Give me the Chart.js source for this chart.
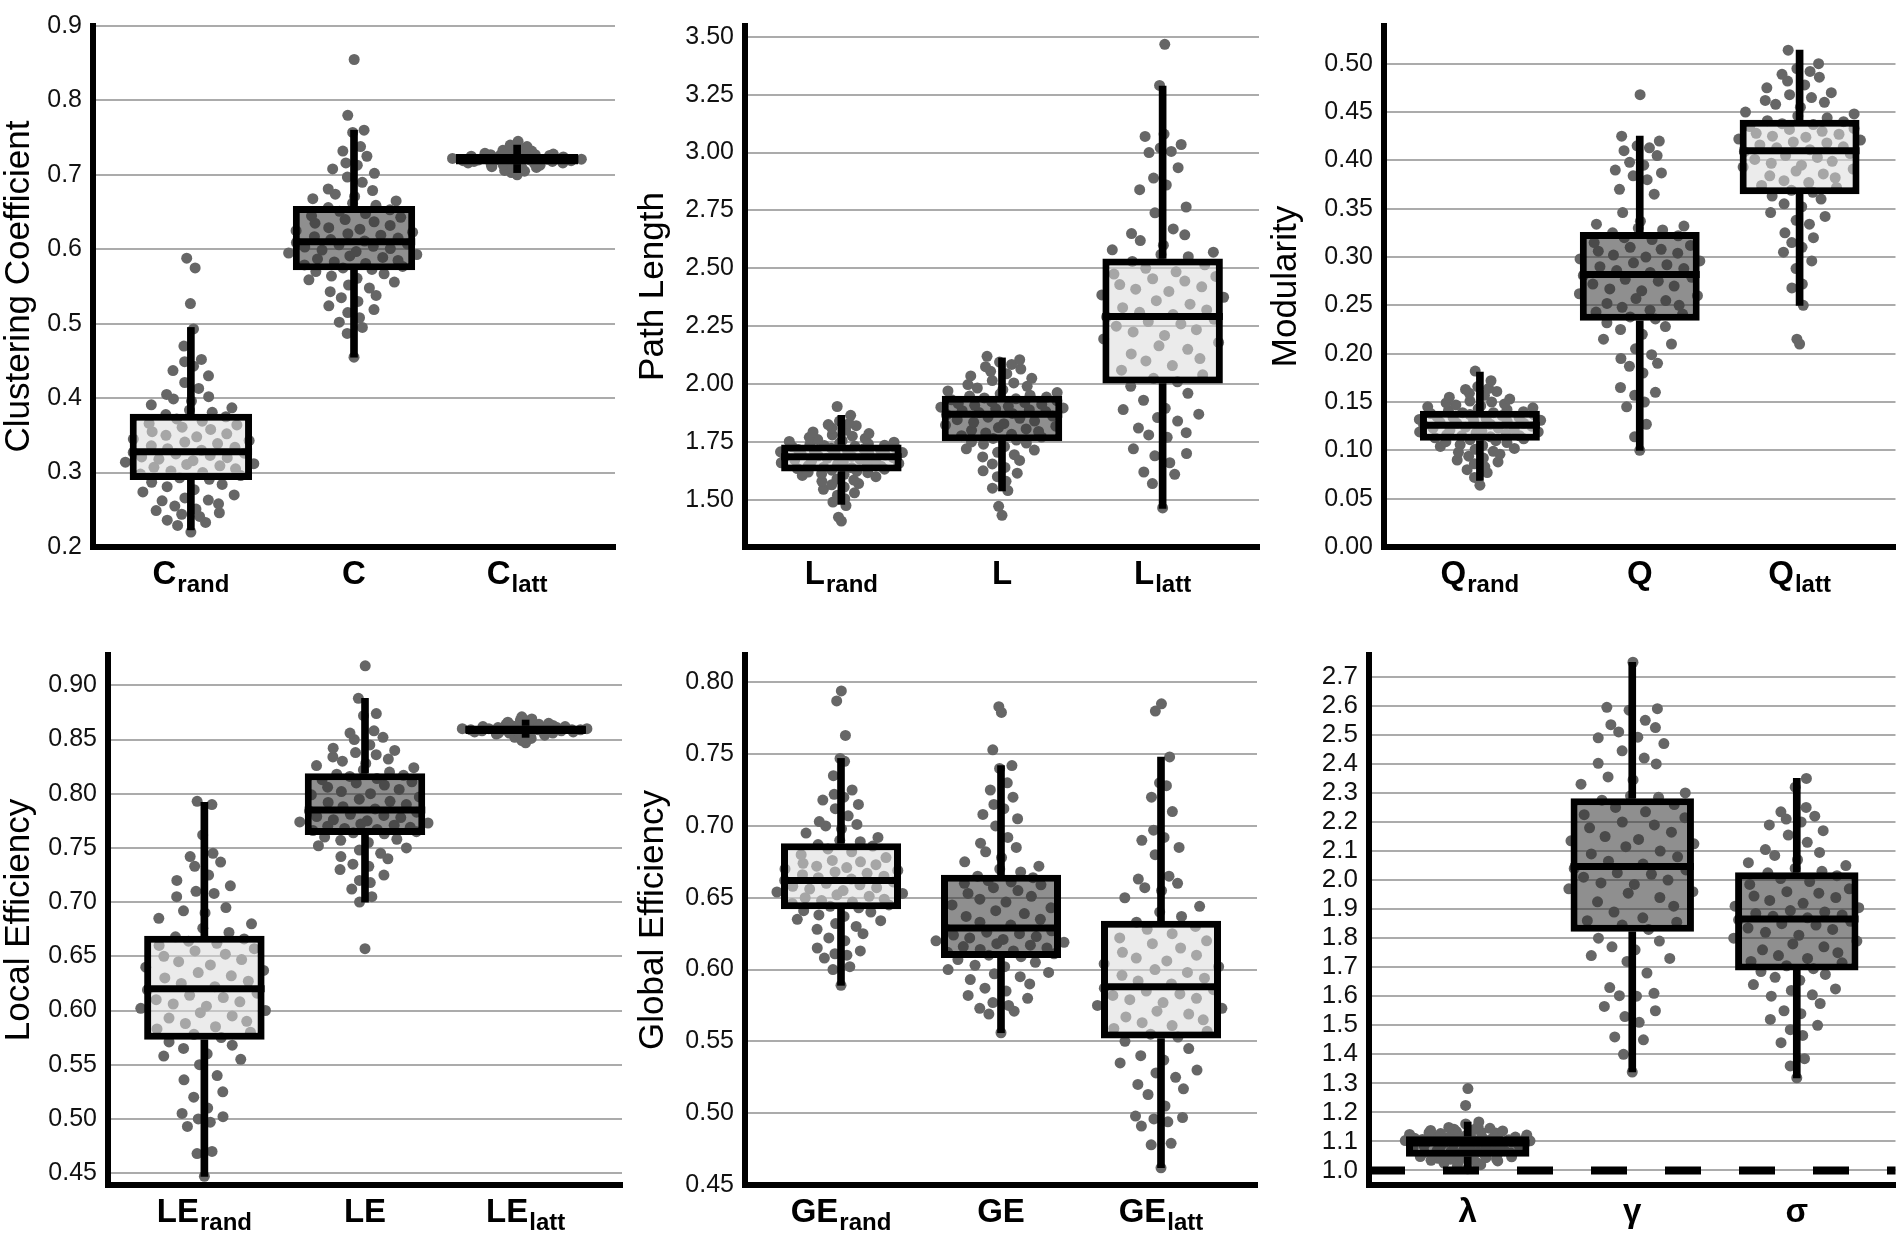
<!DOCTYPE html>
<html>
<head>
<meta charset="utf-8">
<script src="https://cdn.jsdelivr.net/npm/chart.js@4.4.1/dist/chart.umd.min.js"></script>
<style>
  html, body { margin: 0; padding: 0; background: #fff; }
  #page { position: relative; width: 1901px; height: 1238px; overflow: hidden; }
  .panel { position: absolute; width: 634px; height: 619px; }
</style>
</head>
<body>
<div id="page">
  <div class="panel" style="left:0px;top:0px"><canvas id="p1"></canvas></div>
  <div class="panel" style="left:634px;top:0px"><canvas id="p2"></canvas></div>
  <div class="panel" style="left:1267px;top:0px"><canvas id="p3"></canvas></div>
  <div class="panel" style="left:0px;top:619px"><canvas id="p4"></canvas></div>
  <div class="panel" style="left:634px;top:619px"><canvas id="p5"></canvas></div>
  <div class="panel" style="left:1267px;top:619px"><canvas id="p6"></canvas></div>
</div>
<script>
// ---------- clustering coefficient ----------
const CC_TICKS = [0.2, 0.3, 0.4, 0.5, 0.6, 0.7, 0.8, 0.9];
const CC_LABELS = [["C", "rand"], ["C", ""], ["C", "latt"]];
// whisker low, q1, median, q3, whisker high
const CC_BOX = [[0.223, 0.290, 0.328, 0.379, 0.495], [0.455, 0.572, 0.610, 0.658, 0.760], [0.703, 0.714, 0.721, 0.728, 0.740]];
const CC_RAND = [0.220, 0.229, 0.233, 0.236, 0.241, 0.244, 0.246, 0.249, 0.251, 0.255, 0.258, 0.262, 0.263, 0.266, 0.270, 0.274, 0.277, 0.281, 0.284, 0.287,
  0.291, 0.293, 0.296, 0.298, 0.300, 0.302, 0.305, 0.307, 0.309, 0.311, 0.312, 0.314, 0.316, 0.318, 0.320, 0.321, 0.323, 0.325, 0.326, 0.327,
  0.330, 0.332, 0.334, 0.336, 0.339, 0.341, 0.343, 0.345, 0.348, 0.350, 0.352, 0.355, 0.358, 0.361, 0.364, 0.366, 0.369, 0.372, 0.375, 0.378,
  0.381, 0.384, 0.387, 0.391, 0.396, 0.399, 0.402, 0.405, 0.413, 0.421, 0.430, 0.437, 0.443, 0.449, 0.452, 0.470, 0.493, 0.527, 0.575, 0.588];
const CC_REAL = [0.455, 0.487, 0.495, 0.502, 0.508, 0.515, 0.519, 0.524, 0.530, 0.535, 0.538, 0.543, 0.548, 0.552, 0.556, 0.559, 0.561, 0.564, 0.567, 0.570,
  0.573, 0.575, 0.577, 0.579, 0.581, 0.583, 0.585, 0.587, 0.589, 0.591, 0.593, 0.595, 0.597, 0.599, 0.601, 0.603, 0.604, 0.606, 0.607, 0.609,
  0.611, 0.613, 0.615, 0.617, 0.619, 0.621, 0.623, 0.625, 0.627, 0.629, 0.632, 0.635, 0.637, 0.640, 0.643, 0.645, 0.648, 0.651, 0.653, 0.656,
  0.659, 0.662, 0.665, 0.668, 0.671, 0.674, 0.679, 0.681, 0.690, 0.697, 0.702, 0.708, 0.713, 0.716, 0.725, 0.732, 0.738, 0.757, 0.760, 0.780, 0.855];
const CC_LATT = [0.700, 0.703, 0.705, 0.706, 0.708, 0.709, 0.710, 0.711, 0.712, 0.713, 0.713, 0.714, 0.715, 0.715, 0.716, 0.716, 0.717, 0.717, 0.718, 0.718,
  0.718, 0.719, 0.719, 0.719, 0.720, 0.720, 0.720, 0.720, 0.721, 0.721, 0.721, 0.722, 0.722, 0.722, 0.723, 0.723, 0.723, 0.724, 0.724, 0.725,
  0.725, 0.726, 0.726, 0.727, 0.727, 0.728, 0.728, 0.729, 0.730, 0.731, 0.732, 0.733, 0.734, 0.736, 0.738, 0.740, 0.745];

// ---------- path length ----------
const PL_TICKS = [1.5, 1.75, 2.0, 2.25, 2.5, 2.75, 3.0, 3.25, 3.5];
const PL_LABELS = [["L", "rand"], ["L", ""], ["L", "latt"]];
const PL_BOX = [[1.480, 1.622, 1.686, 1.739, 1.865], [1.538, 1.753, 1.870, 1.949, 2.113], [1.463, 2.002, 2.292, 2.543, 3.287]];
const PL_RAND = [1.408, 1.425, 1.475, 1.490, 1.505, 1.520, 1.530, 1.545, 1.555, 1.565, 1.570, 1.580, 1.585, 1.590, 1.600, 1.605, 1.610, 1.613, 1.617, 1.620,
  1.624, 1.628, 1.632, 1.635, 1.638, 1.641, 1.645, 1.648, 1.651, 1.654, 1.657, 1.660, 1.664, 1.667, 1.670, 1.673, 1.676, 1.679, 1.682, 1.685,
  1.688, 1.690, 1.693, 1.696, 1.699, 1.701, 1.704, 1.707, 1.709, 1.712, 1.715, 1.717, 1.720, 1.723, 1.726, 1.729, 1.731, 1.734, 1.736, 1.738,
  1.742, 1.745, 1.749, 1.752, 1.756, 1.760, 1.765, 1.770, 1.775, 1.780, 1.786, 1.793, 1.800, 1.810, 1.820, 1.825, 1.830, 1.840, 1.865, 1.903];
const PL_REAL = [1.433, 1.472, 1.540, 1.550, 1.580, 1.600, 1.615, 1.625, 1.640, 1.655, 1.670, 1.685, 1.695, 1.705, 1.715, 1.720, 1.730, 1.740, 1.745, 1.750,
  1.758, 1.765, 1.771, 1.777, 1.783, 1.789, 1.795, 1.800, 1.806, 1.812, 1.818, 1.823, 1.829, 1.835, 1.840, 1.846, 1.852, 1.857, 1.862, 1.868,
  1.873, 1.877, 1.881, 1.885, 1.889, 1.893, 1.897, 1.900, 1.904, 1.908, 1.912, 1.916, 1.920, 1.924, 1.928, 1.932, 1.936, 1.940, 1.944, 1.948,
  1.952, 1.958, 1.963, 1.970, 1.976, 1.983, 1.990, 1.998, 2.005, 2.015, 2.025, 2.035, 2.045, 2.055, 2.065, 2.075, 2.085, 2.095, 2.105, 2.120];
const PL_LATT = [1.465, 1.570, 1.610, 1.620, 1.660, 1.690, 1.700, 1.720, 1.770, 1.780, 1.790, 1.810, 1.840, 1.855, 1.870, 1.890, 1.895, 1.930, 1.960, 1.990,
  2.010, 2.025, 2.040, 2.060, 2.080, 2.100, 2.110, 2.130, 2.150, 2.165, 2.180, 2.195, 2.210, 2.225, 2.235, 2.250, 2.260, 2.270, 2.280, 2.290,
  2.300, 2.310, 2.320, 2.330, 2.345, 2.360, 2.375, 2.385, 2.400, 2.410, 2.420, 2.430, 2.445, 2.455, 2.465, 2.475, 2.485, 2.500, 2.515, 2.530,
  2.550, 2.560, 2.570, 2.580, 2.600, 2.620, 2.645, 2.650, 2.670, 2.740, 2.765, 2.840, 2.860, 2.890, 2.935, 3.000, 3.005, 3.020, 3.035, 3.070, 3.080, 3.290, 3.468];

// ---------- modularity ----------
const MOD_TICKS = [0.00, 0.05, 0.10, 0.15, 0.20, 0.25, 0.30, 0.35, 0.40, 0.45, 0.50];
const MOD_LABELS = [["Q", "rand"], ["Q", ""], ["Q", "latt"]];
const MOD_BOX = [[0.069, 0.110, 0.126, 0.141, 0.181], [0.100, 0.234, 0.282, 0.326, 0.425], [0.250, 0.365, 0.410, 0.442, 0.514]];
const MOD_RAND = [0.064, 0.072, 0.077, 0.080, 0.083, 0.086, 0.088, 0.090, 0.092, 0.094, 0.096, 0.098, 0.099, 0.101, 0.102, 0.104, 0.105, 0.106, 0.108, 0.109,
  0.110, 0.111, 0.112, 0.113, 0.114, 0.115, 0.115, 0.116, 0.117, 0.118, 0.119, 0.119, 0.120, 0.121, 0.122, 0.123, 0.123, 0.124, 0.125, 0.126,
  0.127, 0.128, 0.128, 0.129, 0.130, 0.131, 0.131, 0.132, 0.133, 0.134, 0.134, 0.135, 0.136, 0.137, 0.137, 0.138, 0.139, 0.139, 0.140, 0.141,
  0.142, 0.143, 0.144, 0.145, 0.146, 0.147, 0.148, 0.149, 0.150, 0.151, 0.153, 0.155, 0.157, 0.159, 0.161, 0.163, 0.164, 0.166, 0.172, 0.182];
const MOD_REAL = [0.100, 0.114, 0.127, 0.145, 0.150, 0.157, 0.160, 0.165, 0.180, 0.187, 0.190, 0.195, 0.199, 0.205, 0.210, 0.215, 0.220, 0.225, 0.228, 0.232,
  0.236, 0.238, 0.241, 0.243, 0.245, 0.248, 0.250, 0.252, 0.255, 0.257, 0.260, 0.262, 0.265, 0.267, 0.270, 0.272, 0.275, 0.277, 0.279, 0.281,
  0.284, 0.286, 0.288, 0.290, 0.292, 0.294, 0.296, 0.298, 0.300, 0.302, 0.304, 0.306, 0.308, 0.310, 0.312, 0.315, 0.318, 0.320, 0.322, 0.325,
  0.328, 0.330, 0.332, 0.334, 0.337, 0.346, 0.365, 0.370, 0.380, 0.384, 0.387, 0.390, 0.395, 0.398, 0.405, 0.410, 0.413, 0.415, 0.420, 0.425, 0.468];
const MOD_LATT = [0.210, 0.215, 0.250, 0.268, 0.272, 0.288, 0.296, 0.305, 0.310, 0.315, 0.320, 0.325, 0.334, 0.338, 0.342, 0.346, 0.352, 0.355, 0.360, 0.363,
  0.367, 0.369, 0.372, 0.374, 0.377, 0.379, 0.382, 0.384, 0.386, 0.389, 0.391, 0.393, 0.395, 0.397, 0.399, 0.401, 0.403, 0.405, 0.407, 0.409,
  0.411, 0.413, 0.414, 0.416, 0.418, 0.419, 0.421, 0.422, 0.424, 0.425, 0.427, 0.428, 0.430, 0.432, 0.433, 0.435, 0.437, 0.438, 0.440, 0.441,
  0.444, 0.446, 0.448, 0.450, 0.455, 0.458, 0.460, 0.462, 0.465, 0.468, 0.470, 0.475, 0.478, 0.482, 0.486, 0.489, 0.492, 0.495, 0.500, 0.514];

// ---------- local efficiency ----------
const LE_TICKS = [0.45, 0.50, 0.55, 0.60, 0.65, 0.70, 0.75, 0.80, 0.85, 0.90];
const LE_LABELS = [["LE", "rand"], ["LE", ""], ["LE", "latt"]];
const LE_BOX = [[0.447, 0.573, 0.620, 0.669, 0.792], [0.700, 0.762, 0.785, 0.819, 0.888], [0.852, 0.855, 0.859, 0.863, 0.868]];
const LE_RAND = [0.447, 0.468, 0.470, 0.493, 0.497, 0.500, 0.502, 0.505, 0.510, 0.520, 0.525, 0.536, 0.540, 0.550, 0.555, 0.558, 0.560, 0.565, 0.568, 0.571,
  0.575, 0.578, 0.580, 0.583, 0.585, 0.588, 0.590, 0.593, 0.595, 0.598, 0.600, 0.602, 0.604, 0.606, 0.608, 0.610, 0.612, 0.614, 0.616, 0.619,
  0.622, 0.625, 0.627, 0.630, 0.632, 0.635, 0.637, 0.640, 0.642, 0.645, 0.647, 0.650, 0.652, 0.655, 0.657, 0.660, 0.662, 0.664, 0.666, 0.668,
  0.672, 0.676, 0.680, 0.685, 0.690, 0.692, 0.695, 0.705, 0.708, 0.710, 0.715, 0.720, 0.725, 0.733, 0.737, 0.742, 0.745, 0.762, 0.790, 0.793];
const LE_REAL = [0.657, 0.700, 0.705, 0.712, 0.718, 0.720, 0.725, 0.730, 0.733, 0.735, 0.740, 0.742, 0.745, 0.748, 0.750, 0.752, 0.755, 0.757, 0.758, 0.760,
  0.763, 0.764, 0.765, 0.766, 0.767, 0.768, 0.769, 0.770, 0.771, 0.772, 0.773, 0.774, 0.775, 0.776, 0.778, 0.779, 0.780, 0.781, 0.783, 0.784,
  0.786, 0.788, 0.790, 0.792, 0.793, 0.795, 0.797, 0.799, 0.800, 0.802, 0.804, 0.806, 0.808, 0.810, 0.811, 0.813, 0.814, 0.816, 0.817, 0.818,
  0.820, 0.822, 0.824, 0.826, 0.828, 0.830, 0.832, 0.834, 0.836, 0.838, 0.840, 0.842, 0.845, 0.850, 0.852, 0.856, 0.858, 0.872, 0.874, 0.888, 0.918];
const LE_LATT = [0.847, 0.849, 0.851, 0.852, 0.853, 0.854, 0.854, 0.855, 0.855, 0.856, 0.856, 0.856, 0.857, 0.857, 0.857, 0.857, 0.858, 0.858, 0.858, 0.858,
  0.858, 0.859, 0.859, 0.859, 0.859, 0.859, 0.859, 0.860, 0.860, 0.860, 0.860, 0.860, 0.861, 0.861, 0.861, 0.861, 0.862, 0.862, 0.862, 0.862,
  0.863, 0.863, 0.863, 0.864, 0.864, 0.865, 0.865, 0.866, 0.867, 0.868, 0.869, 0.871];

// ---------- global efficiency ----------
const GE_TICKS = [0.45, 0.50, 0.55, 0.60, 0.65, 0.70, 0.75, 0.80];
const GE_LABELS = [["GE", "rand"], ["GE", ""], ["GE", "latt"]];
const GE_BOX = [[0.589, 0.642, 0.662, 0.688, 0.747], [0.556, 0.608, 0.629, 0.666, 0.742], [0.462, 0.552, 0.588, 0.634, 0.748]];
const GE_RAND = [0.589, 0.600, 0.602, 0.608, 0.610, 0.611, 0.613, 0.615, 0.620, 0.622, 0.625, 0.628, 0.630, 0.632, 0.634, 0.635, 0.637, 0.638, 0.640, 0.641,
  0.643, 0.644, 0.645, 0.646, 0.647, 0.648, 0.649, 0.650, 0.651, 0.652, 0.653, 0.654, 0.655, 0.656, 0.657, 0.658, 0.659, 0.660, 0.661, 0.662,
  0.663, 0.664, 0.665, 0.666, 0.667, 0.668, 0.669, 0.670, 0.671, 0.672, 0.673, 0.674, 0.675, 0.676, 0.678, 0.680, 0.682, 0.684, 0.686, 0.687,
  0.689, 0.690, 0.692, 0.695, 0.698, 0.700, 0.701, 0.703, 0.707, 0.712, 0.715, 0.718, 0.720, 0.722, 0.725, 0.735, 0.745, 0.747, 0.763, 0.787, 0.794];
const GE_REAL = [0.556, 0.569, 0.571, 0.573, 0.575, 0.577, 0.580, 0.582, 0.585, 0.587, 0.590, 0.593, 0.595, 0.597, 0.598, 0.600, 0.602, 0.603, 0.605, 0.607,
  0.609, 0.610, 0.611, 0.612, 0.613, 0.614, 0.615, 0.616, 0.617, 0.618, 0.619, 0.620, 0.621, 0.622, 0.623, 0.624, 0.625, 0.626, 0.627, 0.628,
  0.631, 0.633, 0.635, 0.637, 0.639, 0.641, 0.643, 0.645, 0.647, 0.649, 0.651, 0.653, 0.655, 0.657, 0.659, 0.660, 0.661, 0.662, 0.664, 0.665,
  0.668, 0.670, 0.672, 0.675, 0.678, 0.682, 0.685, 0.688, 0.692, 0.700, 0.705, 0.708, 0.712, 0.715, 0.720, 0.725, 0.730, 0.740, 0.742, 0.753, 0.779, 0.783];
const GE_LATT = [0.462, 0.478, 0.479, 0.491, 0.494, 0.496, 0.497, 0.498, 0.505, 0.513, 0.517, 0.520, 0.525, 0.528, 0.530, 0.535, 0.537, 0.540, 0.545, 0.550,
  0.553, 0.555, 0.557, 0.559, 0.561, 0.563, 0.565, 0.567, 0.569, 0.571, 0.573, 0.575, 0.577, 0.579, 0.580, 0.582, 0.583, 0.585, 0.586, 0.587,
  0.590, 0.592, 0.594, 0.596, 0.598, 0.600, 0.602, 0.604, 0.606, 0.608, 0.610, 0.612, 0.615, 0.618, 0.620, 0.622, 0.625, 0.628, 0.630, 0.633,
  0.637, 0.640, 0.644, 0.650, 0.655, 0.657, 0.660, 0.663, 0.665, 0.680, 0.685, 0.690, 0.692, 0.697, 0.710, 0.720, 0.728, 0.730, 0.748, 0.780, 0.785];

// ---------- small-world (lambda, gamma, sigma) ----------
const SW_TICKS = [1.0, 1.1, 1.2, 1.3, 1.4, 1.5, 1.6, 1.7, 1.8, 1.9, 2.0, 2.1, 2.2, 2.3, 2.4, 2.5, 2.6, 2.7];
const SW_LABELS = [["λ", ""], ["γ", ""], ["σ", ""]];
const SW_BOX = [[1.004, 1.047, 1.095, 1.118, 1.167], [1.339, 1.822, 2.047, 2.282, 2.750], [1.319, 1.689, 1.866, 2.027, 2.350]];
const SW_REF = 1.0;
const SW_LAMBDA = [1.006, 1.015, 1.020, 1.025, 1.028, 1.030, 1.033, 1.035, 1.037, 1.039, 1.040, 1.042, 1.044, 1.045, 1.047, 1.048, 1.050, 1.051, 1.052, 1.053,
  1.056, 1.058, 1.060, 1.062, 1.064, 1.066, 1.068, 1.070, 1.072, 1.074, 1.076, 1.078, 1.080, 1.082, 1.084, 1.086, 1.088, 1.090, 1.092, 1.094,
  1.096, 1.097, 1.098, 1.099, 1.100, 1.101, 1.102, 1.103, 1.104, 1.105, 1.106, 1.107, 1.108, 1.109, 1.110, 1.111, 1.112, 1.114, 1.115, 1.117,
  1.119, 1.120, 1.122, 1.124, 1.125, 1.127, 1.129, 1.130, 1.132, 1.134, 1.136, 1.138, 1.140, 1.142, 1.145, 1.148, 1.152, 1.160, 1.167, 1.224, 1.282];
const SW_GAMMA = [1.339, 1.400, 1.450, 1.460, 1.510, 1.530, 1.550, 1.565, 1.600, 1.602, 1.610, 1.630, 1.680, 1.720, 1.730, 1.740, 1.760, 1.770, 1.790, 1.800,
  1.830, 1.845, 1.855, 1.860, 1.870, 1.890, 1.910, 1.925, 1.940, 1.955, 1.960, 1.970, 1.985, 1.990, 2.000, 2.010, 2.020, 2.025, 2.035, 2.040,
  2.055, 2.065, 2.080, 2.090, 2.100, 2.115, 2.125, 2.135, 2.140, 2.150, 2.165, 2.180, 2.190, 2.200, 2.215, 2.225, 2.235, 2.250, 2.260, 2.275,
  2.285, 2.290, 2.300, 2.330, 2.345, 2.355, 2.400, 2.402, 2.420, 2.445, 2.470, 2.490, 2.492, 2.510, 2.525, 2.535, 2.550, 2.585, 2.590, 2.595, 2.750];
const SW_SIGMA = [1.319, 1.360, 1.385, 1.440, 1.465, 1.485, 1.500, 1.520, 1.540, 1.550, 1.575, 1.600, 1.605, 1.620, 1.625, 1.640, 1.655, 1.665, 1.675, 1.685,
  1.695, 1.705, 1.715, 1.720, 1.730, 1.740, 1.750, 1.760, 1.770, 1.780, 1.790, 1.800, 1.810, 1.820, 1.830, 1.835, 1.845, 1.850, 1.858, 1.863,
  1.870, 1.875, 1.880, 1.885, 1.890, 1.895, 1.905, 1.910, 1.920, 1.930, 1.940, 1.945, 1.955, 1.960, 1.970, 1.985, 1.995, 2.005, 2.015, 2.025,
  2.030, 2.040, 2.050, 2.060, 2.070, 2.085, 2.095, 2.105, 2.130, 2.155, 2.170, 2.190, 2.200, 2.210, 2.220, 2.235, 2.250, 2.320, 2.350];

const FONT = '"Liberation Sans", Arial, sans-serif';
const LIGHT = "rgba(219,219,219,0.55)";
const DARK = "rgba(51,51,51,0.55)";

// van der Corput sequence, used for the quasirandom spread of the dots
function vdc(n) {
  let v = 0, d = 1;
  while (n > 0) { d *= 2; v += (n % 2) / d; n = Math.floor(n / 2); }
  return v;
}

// spread dots sideways in proportion to their local density (like ggbeeswarm quasirandom)
function swarm(values, centre, width) {
  const n = values.length;
  const mean = values.reduce((a, b) => a + b, 0) / n;
  const sd = Math.sqrt(values.reduce((a, b) => a + (b - mean) * (b - mean), 0) / (n - 1));
  const s = values.slice().sort((a, b) => a - b);
  const iqr = s[Math.floor(0.75 * (n - 1))] - s[Math.floor(0.25 * (n - 1))];
  const bw = 0.9 * Math.min(sd, iqr / 1.34 || sd) * Math.pow(n, -0.2);
  const dens = values.map(v => values.reduce((a, w) => a + Math.exp(-0.5 * ((v - w) / bw) ** 2), 0));
  const maxD = Math.max(...dens);
  const order = values.map((v, i) => i).sort((a, b) => values[a] - values[b]);
  const rank = [];
  order.forEach((idx, r) => { rank[idx] = r; });
  return values.map((v, i) => ({ x: centre + (vdc(rank[i] + 1) - 0.5) * 2 * width * dens[i] / maxD, y: v }));
}

function makePanel(cfg) {
  const centres = [1, 2, 3];
  const pts = [];
  cfg.points.forEach((vals, g) => swarm(vals, centres[g], 0.42).forEach(p => pts.push(p)));
  const box = cfg.box;

  const extras = {
    id: "boxExtras",
    afterDatasetsDraw(chart) {
      const ctx = chart.ctx;
      const y = chart.scales.y;
      const area = chart.chartArea;
      ctx.save();
      ctx.strokeStyle = "#000";
      ctx.lineWidth = 7;
      chart.getDatasetMeta(2).data.forEach((el, i) => {
        const p = el.getProps(["x", "width"], true);
        const py = y.getPixelForValue(box[i][2]);
        ctx.beginPath();
        ctx.moveTo(p.x - p.width / 2, py);
        ctx.lineTo(p.x + p.width / 2, py);
        ctx.stroke();
      });
      if (cfg.ref != null) {
        const py = y.getPixelForValue(cfg.ref);
        ctx.lineWidth = 8;
        ctx.setLineDash([36, 38]);
        ctx.beginPath();
        ctx.moveTo(area.left, py);
        ctx.lineTo(area.right, py);
        ctx.stroke();
      }
      ctx.restore();
    },
    afterDraw(chart) {
      const ctx = chart.ctx;
      const x = chart.scales.x;
      const base = chart.chartArea.bottom + 37;
      ctx.save();
      ctx.fillStyle = "#000";
      ctx.textBaseline = "alphabetic";
      ctx.textAlign = "left";
      cfg.labels.forEach((lab, i) => {
        const cx = x.getPixelForValue(centres[i]);
        ctx.font = "bold 33px " + FONT;
        const w1 = ctx.measureText(lab[0]).width;
        ctx.font = "bold 24px " + FONT;
        const w2 = lab[1] ? ctx.measureText(lab[1]).width + 1 : 0;
        const start = cx - (w1 + w2) / 2;
        ctx.font = "bold 33px " + FONT;
        ctx.fillText(lab[0], start, base);
        if (lab[1]) {
          ctx.font = "bold 24px " + FONT;
          ctx.fillText(lab[1], start + w1 + 1, base + 8);
        }
      });
      ctx.restore();
    }
  };

  new Chart(document.getElementById(cfg.id), {
    type: "bar",
    data: {
      datasets: [
        { type: "bar", data: centres.map((c, i) => ({ x: c, y: [box[i][0], box[i][1]] })),
          backgroundColor: "#000", borderWidth: 0, barThickness: 7, grouped: false },
        { type: "bar", data: centres.map((c, i) => ({ x: c, y: [box[i][3], box[i][4]] })),
          backgroundColor: "#000", borderWidth: 0, barThickness: 7, grouped: false },
        { type: "bar", data: centres.map((c, i) => ({ x: c, y: [box[i][1], box[i][3]] })),
          backgroundColor: cfg.fills, borderColor: "#000", borderWidth: 7, borderSkipped: false,
          barPercentage: 0.75, categoryPercentage: 1, grouped: false },
        { type: "scatter", data: pts, pointRadius: 5.5, pointHoverRadius: 5.5,
          pointBackgroundColor: "#666", pointBorderWidth: 0 }
      ]
    },
    options: {
      responsive: true,
      maintainAspectRatio: false,
      animation: false,
      events: [],
      layout: { padding: { top: cfg.top, right: cfg.right, left: 0, bottom: 0 } },
      plugins: { legend: { display: false }, tooltip: { enabled: false } },
      scales: {
        x: {
          type: "linear", min: 0.4, max: 3.6, offset: false,
          afterBuildTicks: s => { s.ticks = centres.map(v => ({ value: v })); },
          afterFit: s => { s.height = cfg.bottomSpace; },
          grid: { display: false, offset: false },
          ticks: { display: false },
          border: { color: "#000", width: 6 }
        },
        y: {
          min: cfg.min, max: cfg.max,
          afterBuildTicks: s => { s.ticks = cfg.ticks.map(v => ({ value: v })); },
          afterFit: s => { s.width = cfg.left; },
          grid: { color: "#ababab", lineWidth: 2, drawTicks: false },
          border: { color: "#000", width: 6 },
          ticks: { autoSkip: false, padding: 11, color: "#111",
            font: { family: FONT, size: cfg.tickSize },
            callback: v => Number(v).toFixed(cfg.dec) },
          title: { display: !!cfg.title, text: cfg.title, color: "#000",
            font: { family: FONT, size: 35, lineHeight: 1 }, padding: { top: 2, bottom: 0 } }
        }
      }
    },
    plugins: [extras]
  });
}

makePanel({ id: "p1", title: "Clustering Coefficient", labels: CC_LABELS, box: CC_BOX,
  points: [CC_RAND, CC_REAL, CC_LATT], ticks: CC_TICKS, min: 0.2, max: 0.9, dec: 1,
  fills: [LIGHT, DARK, LIGHT], left: 93, right: 19, top: 16, bottomSpace: 72, tickSize: 25 });
makePanel({ id: "p2", title: "Path Length", labels: PL_LABELS, box: PL_BOX,
  points: [PL_RAND, PL_REAL, PL_LATT], ticks: PL_TICKS, min: 1.296, max: 3.547, dec: 2,
  fills: [LIGHT, DARK, LIGHT], left: 111, right: 9, top: 16, bottomSpace: 72, tickSize: 25 });
makePanel({ id: "p3", title: "Modularity", labels: MOD_LABELS, box: MOD_BOX,
  points: [MOD_RAND, MOD_REAL, MOD_LATT], ticks: MOD_TICKS, min: 0, max: 0.539, dec: 2,
  fills: [LIGHT, DARK, LIGHT], left: 117, right: 3, top: 16, bottomSpace: 72, tickSize: 25 });
makePanel({ id: "p4", title: "Local Efficiency", labels: LE_LABELS, box: LE_BOX,
  points: [LE_RAND, LE_REAL, LE_LATT], ticks: LE_TICKS, min: 0.439, max: 0.928, dec: 2,
  fills: [LIGHT, DARK, LIGHT], left: 108, right: 12, top: 36, bottomSpace: 53, tickSize: 25 });
makePanel({ id: "p5", title: "Global Efficiency", labels: GE_LABELS, box: GE_BOX,
  points: [GE_RAND, GE_REAL, GE_LATT], ticks: GE_TICKS, min: 0.45, max: 0.819, dec: 2,
  fills: [LIGHT, DARK, LIGHT], left: 111, right: 11, top: 36, bottomSpace: 53, tickSize: 25 });
makePanel({ id: "p6", title: "", labels: SW_LABELS, box: SW_BOX, ref: SW_REF,
  points: [SW_LAMBDA, SW_GAMMA, SW_SIGMA], ticks: SW_TICKS, min: 0.95, max: 2.775, dec: 1,
  fills: [DARK, DARK, DARK], left: 102, right: 5, top: 36, bottomSpace: 53, tickSize: 26 });
</script>
</body>
</html>
